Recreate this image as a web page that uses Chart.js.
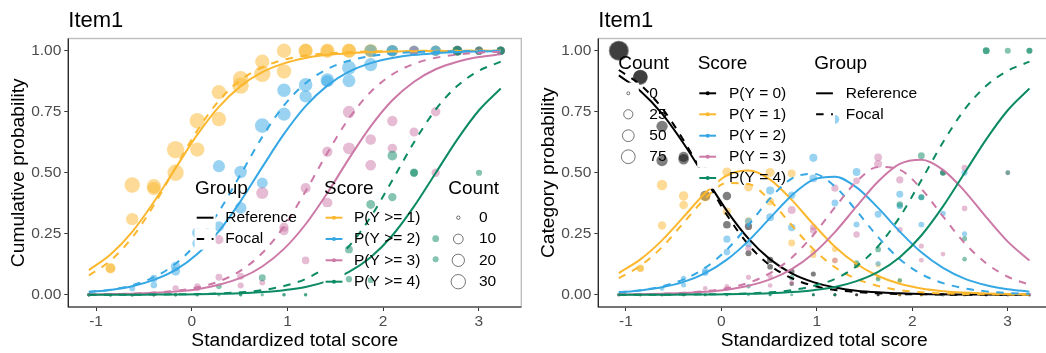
<!DOCTYPE html>
<html>
<head>
<meta charset="utf-8">
<script src="https://cdn.jsdelivr.net/npm/chart.js@4.4.1/dist/chart.umd.min.js"></script>
<style>
  html, body { margin: 0; padding: 0; background: #fff; overflow: hidden; }
  body { width: 1046px; height: 353px; position: relative; }
  .panel { position: absolute; top: 0; width: 530px; height: 353px; }
  #left { left: 0; }
  #right { left: 530px; }
</style>
</head>
<body>
<div class="panel" id="left"><canvas id="cumChart" width="530" height="353"></canvas></div>
<div class="panel" id="right"><canvas id="catChart" width="530" height="353"></canvas></div>
<script>
// standardized total score levels
const scores = [-1.075, -0.849, -0.622, -0.396, -0.169, 0.058, 0.284, 0.511, 0.737, 0.964,
                1.19, 1.417, 1.643, 1.87, 2.096, 2.323, 2.549, 2.776, 3.002, 3.229];

// group sizes at each score level
const nRef = [190, 100, 80, 67, 82, 50, 36, 41, 31, 30, 30, 30, 30, 25, 15, 12, 12, 10, 4, 6];
const nFoc = [150, 90, 65, 57, 84, 50, 42, 49, 46, 33, 25, 20, 26, 20, 17, 8, 12, 8, 6, 5];

// observed cumulative proportions P(Y >= k), k = 1..4
const refCumObs = [
  [0, 0.11, 0.45, 0.445, 0.595, 0.713, 0.83, 0.885, 0.955, 1, 1, 1, 1, 1, 1, 1, 1, 1, 1, 1],
  [0, 0, 0, 0.04, 0.116, 0.21, 0.527, 0.503, 0.458, 0.838, 0.86, 0.88, 0.93, 0.943, 1, 1, 1, 1, 1, 1],
  [0, 0, 0, 0, 0.026, 0.035, 0.226, 0.076, 0.05, 0.277, 0.141, 0.377, 0.6, 0.531, 0.6, 0.667, 0.75, 1, 1, 1],
  [0, 0, 0, 0, 0, 0, 0.035, 0, 0, 0, 0, 0.13, 0.064, 0.06, 0.4, 0.5, 0.23, 1, 0.5, 1]
];
const focCumObs = [
  [0, 0.107, 0.31, 0.435, 0.5, 0.595, 0.72, 0.857, 0.905, 0.915, 1, 1, 1, 1, 1, 1, 1, 1, 1, 1],
  [0, 0, 0.026, 0.067, 0.097, 0.254, 0.28, 0.356, 0.693, 0.74, 0.813, 0.875, 0.877, 1, 1, 1, 1, 1, 1, 1],
  [0, 0, 0, 0, 0, 0.026, 0.072, 0.038, 0.417, 0.263, 0.437, 0.587, 0.749, 0.636, 0.712, 1, 0.5, 1, 1, 1],
  [0, 0, 0, 0, 0, 0, 0, 0, 0.07, 0, 0, 0.12, 0.186, 0.37, 0.57, 0.5, 0.146, 1, 1, 1]
];

// observed category proportions P(Y = k), k = 0..4
const refCatObs = [
  [1, 0.89, 0.55, 0.555, 0.405, 0.287, 0.17, 0.115, 0.045, 0, 0, 0, 0, 0, 0, 0, 0, 0, 0, 0],
  [0, 0.11, 0.45, 0.405, 0.479, 0.503, 0.303, 0.382, 0.497, 0.162, 0.14, 0.12, 0.07, 0.057, 0, 0, 0, 0, 0, 0],
  [0, 0, 0, 0.04, 0.09, 0.175, 0.301, 0.427, 0.408, 0.561, 0.719, 0.503, 0.33, 0.412, 0.4, 0.333, 0.25, 0, 0, 0],
  [0, 0, 0, 0, 0.026, 0.035, 0.191, 0.076, 0.05, 0.277, 0.141, 0.247, 0.536, 0.471, 0.2, 0.167, 0.52, 0, 0.5, 0],
  [0, 0, 0, 0, 0, 0, 0.035, 0, 0, 0, 0, 0.13, 0.064, 0.06, 0.4, 0.5, 0.23, 1, 0.5, 1]
];
const focCatObs = [
  [1, 0.893, 0.69, 0.565, 0.5, 0.405, 0.28, 0.143, 0.095, 0.085, 0, 0, 0, 0, 0, 0, 0, 0, 0, 0],
  [0, 0.107, 0.284, 0.368, 0.403, 0.341, 0.44, 0.501, 0.212, 0.175, 0.187, 0.125, 0.123, 0, 0, 0, 0, 0, 0, 0],
  [0, 0, 0.026, 0.067, 0.097, 0.228, 0.208, 0.318, 0.276, 0.477, 0.376, 0.288, 0.128, 0.364, 0.288, 0, 0.5, 0, 0, 0],
  [0, 0, 0, 0, 0, 0.026, 0.072, 0.038, 0.347, 0.263, 0.437, 0.467, 0.563, 0.266, 0.142, 0.5, 0.354, 0, 0, 0],
  [0, 0, 0, 0, 0, 0, 0, 0, 0.07, 0, 0, 0.12, 0.186, 0.37, 0.57, 0.5, 0.146, 1, 1, 1]
];

// fitted curves (read at the score levels)
const refCumCurve = [
  [0.101, 0.165, 0.258, 0.380, 0.519, 0.656, 0.770, 0.855, 0.912, 0.948, 0.970, 0.983, 0.990, 0.994, 0.997, 0.998, 0.999, 0.999, 1.000, 1.000],
  [0.012, 0.020, 0.035, 0.061, 0.102, 0.167, 0.261, 0.384, 0.523, 0.659, 0.773, 0.857, 0.914, 0.949, 0.970, 0.983, 0.990, 0.995, 0.997, 0.998],
  [0.001, 0.003, 0.004, 0.008, 0.013, 0.023, 0.041, 0.069, 0.116, 0.188, 0.289, 0.417, 0.558, 0.690, 0.797, 0.873, 0.924, 0.955, 0.974, 0.985],
  [0.000, 0.000, 0.000, 0.001, 0.001, 0.002, 0.004, 0.006, 0.011, 0.019, 0.032, 0.056, 0.094, 0.154, 0.243, 0.362, 0.499, 0.637, 0.756, 0.845]
];
const focCumCurve = [
  [0.079, 0.140, 0.235, 0.367, 0.522, 0.673, 0.795, 0.880, 0.932, 0.963, 0.980, 0.989, 0.994, 0.997, 0.998, 0.999, 1.000, 1.000, 1.000, 1.000],
  [0.011, 0.021, 0.039, 0.072, 0.127, 0.215, 0.341, 0.493, 0.647, 0.776, 0.867, 0.925, 0.959, 0.978, 0.988, 0.994, 0.997, 0.998, 0.999, 1.000],
  [0.001, 0.002, 0.005, 0.009, 0.016, 0.030, 0.055, 0.099, 0.171, 0.280, 0.424, 0.581, 0.723, 0.831, 0.903, 0.946, 0.971, 0.984, 0.992, 0.996],
  [0.000, 0.000, 0.000, 0.001, 0.002, 0.003, 0.006, 0.010, 0.019, 0.036, 0.065, 0.117, 0.199, 0.319, 0.469, 0.625, 0.759, 0.856, 0.918, 0.955]
];
const refCatCurve = [
  [0.899, 0.835, 0.742, 0.620, 0.481, 0.344, 0.230, 0.145, 0.088, 0.052, 0.030, 0.017, 0.010, 0.006, 0.003, 0.002, 0.001, 0.001, 0.000, 0.000],
  [0.089, 0.145, 0.223, 0.319, 0.417, 0.489, 0.509, 0.472, 0.389, 0.289, 0.197, 0.126, 0.077, 0.045, 0.026, 0.015, 0.009, 0.005, 0.003, 0.002],
  [0.010, 0.018, 0.031, 0.053, 0.089, 0.144, 0.221, 0.315, 0.407, 0.472, 0.484, 0.440, 0.356, 0.259, 0.174, 0.110, 0.066, 0.039, 0.023, 0.013],
  [0.001, 0.002, 0.004, 0.007, 0.012, 0.021, 0.037, 0.063, 0.105, 0.169, 0.257, 0.362, 0.464, 0.536, 0.553, 0.512, 0.425, 0.318, 0.218, 0.140],
  [0.000, 0.000, 0.000, 0.001, 0.001, 0.002, 0.004, 0.006, 0.011, 0.019, 0.032, 0.056, 0.094, 0.154, 0.243, 0.362, 0.499, 0.637, 0.756, 0.845]
];
const focCatCurve = [
  [0.921, 0.860, 0.765, 0.633, 0.478, 0.327, 0.205, 0.120, 0.068, 0.037, 0.020, 0.011, 0.006, 0.003, 0.002, 0.001, 0.000, 0.000, 0.000, 0.000],
  [0.068, 0.119, 0.195, 0.295, 0.395, 0.458, 0.454, 0.386, 0.285, 0.187, 0.113, 0.065, 0.036, 0.019, 0.010, 0.006, 0.003, 0.002, 0.001, 0.000],
  [0.010, 0.019, 0.035, 0.063, 0.111, 0.185, 0.286, 0.395, 0.476, 0.496, 0.444, 0.344, 0.236, 0.146, 0.085, 0.048, 0.026, 0.014, 0.007, 0.004],
  [0.001, 0.002, 0.004, 0.008, 0.015, 0.027, 0.049, 0.089, 0.152, 0.245, 0.358, 0.464, 0.524, 0.512, 0.434, 0.321, 0.212, 0.129, 0.074, 0.041],
  [0.000, 0.000, 0.000, 0.001, 0.002, 0.003, 0.006, 0.010, 0.019, 0.036, 0.065, 0.117, 0.199, 0.319, 0.469, 0.625, 0.759, 0.856, 0.918, 0.955]
];

const cumLabels = ['P(Y >= 1)', 'P(Y >= 2)', 'P(Y >= 3)', 'P(Y >= 4)'];
const catLabels = ['P(Y = 0)', 'P(Y = 1)', 'P(Y = 2)', 'P(Y = 3)', 'P(Y = 4)'];
const groupLabels = ['Reference', 'Focal'];
const cumCountBreaks = [0, 10, 20, 30];
const catCountBreaks = [0, 25, 50, 75];
const xTicks = [-1, 0, 1, 2, 3];
const yTicks = [0, 0.25, 0.5, 0.75, 1];

const FONT = '"Liberation Sans", Arial, Helvetica, sans-serif';
const cumColors = ['#FBB72E', '#35A7E5', '#CC79A7', '#0B8A63'];
const catColors = ['#000000'].concat(cumColors);
const DASH = [7.5, 7.5];
const KEY_W = 21, KEY_H = 21.3;

Chart.defaults.font.family = FONT;

const leftRadius = n => 1.7 + Math.sqrt(n);
const rightRadius = n => 1.5 + 0.62 * Math.sqrt(n);

function fade(hex, a) {
  const v = parseInt(hex.slice(1), 16);
  return `rgba(${(v >> 16) & 255}, ${(v >> 8) & 255}, ${v & 255}, ${a})`;
}

function dotSet(props, sizes, color, rFn) {
  return {
    data: scores.map((x, i) => ({ x: x, y: props[i], n: sizes[i] * props[i] })),
    showLine: false,
    backgroundColor: fade(color, 0.5),
    pointBorderWidth: 0,
    borderWidth: 0,
    pointRadius: ctx => rFn(ctx.raw ? ctx.raw.n : 0),
    pointHoverRadius: ctx => rFn(ctx.raw ? ctx.raw.n : 0)
  };
}

function lineSet(vals, color, dash) {
  return {
    data: scores.map((x, i) => ({ x: x, y: vals[i] })),
    showLine: true,
    borderColor: color,
    borderWidth: 2,
    borderDash: dash,
    pointRadius: 0,
    pointHoverRadius: 0,
    cubicInterpolationMode: 'monotone',
    fill: false
  };
}

function buildSets(refObs, focObs, refCurve, focCurve, colors, rFn) {
  const sets = [];
  colors.forEach((c, k) => {
    sets.push(dotSet(refObs[k], nRef, c, rFn));
    sets.push(dotSet(focObs[k], nFoc, c, rFn));
  });
  colors.forEach((c, k) => {
    sets.push(lineSet(refCurve[k], c, []));
    sets.push(lineSet(focCurve[k], c, DASH));
  });
  // first pushed is painted first (bottom)
  sets.forEach((d, i) => { d.order = sets.length - i; });
  return sets;
}

function drawLegend(ctx, lg) {
  ctx.textAlign = 'left';
  ctx.textBaseline = 'middle';
  ctx.fillStyle = '#000';
  ctx.font = `19px ${FONT}`;
  ctx.fillText(lg.title, lg.titleX, lg.titleY);
  lg.rows.forEach((row, i) => {
    const cy = lg.rowY[i];
    const x0 = lg.keyX;
    ctx.fillStyle = '#fff';
    ctx.fillRect(x0, cy - KEY_H / 2, KEY_W, KEY_H);
    if (row.kind === 'solid' || row.kind === 'dash' || row.kind === 'score') {
      ctx.save();
      ctx.strokeStyle = row.color || '#000';
      ctx.lineWidth = 2;
      ctx.setLineDash(row.kind === 'dash' ? DASH : []);
      ctx.beginPath();
      ctx.moveTo(x0 + 0.1 * KEY_W, cy);
      ctx.lineTo(x0 + 0.9 * KEY_W, cy);
      ctx.stroke();
      ctx.restore();
      if (row.kind === 'score') {
        ctx.fillStyle = row.color;
        ctx.beginPath();
        ctx.arc(x0 + KEY_W / 2, cy, 2, 0, Math.PI * 2);
        ctx.fill();
      }
    } else if (row.kind === 'size') {
      ctx.strokeStyle = 'rgba(0,0,0,0.6)';
      ctx.lineWidth = 0.9;
      ctx.beginPath();
      ctx.arc(x0 + KEY_W / 2, cy, row.r, 0, Math.PI * 2);
      ctx.stroke();
    }
    ctx.fillStyle = '#000';
    ctx.font = `15.5px ${FONT}`;
    ctx.fillText(row.label, lg.textX, cy);
  });
}

const panelDecor = {
  id: 'panelDecor',
  afterDatasetsDraw(chart, args, o) {
    const ctx = chart.ctx, a = chart.chartArea;
    ctx.save();
    ctx.strokeStyle = '#BEBEBE';
    ctx.lineWidth = 1.4;
    ctx.strokeRect(a.left, a.top, a.right - a.left, a.bottom - a.top);
    ctx.strokeStyle = '#1A1A1A';
    ctx.lineWidth = 1.2;
    ctx.beginPath();
    ctx.moveTo(a.left, a.top);
    ctx.lineTo(a.left, a.bottom);
    ctx.lineTo(a.right, a.bottom);
    ctx.stroke();

    ctx.fillStyle = '#000';
    ctx.textBaseline = 'alphabetic';
    ctx.textAlign = 'left';
    ctx.font = `22px ${FONT}`;
    ctx.fillText(o.title, a.left, 26.7);
    ctx.textAlign = 'center';
    ctx.font = `19.2px ${FONT}`;
    ctx.fillText(o.xTitle, (a.left + a.right) / 2, 346);
    ctx.save();
    ctx.translate(23.5, (a.top + a.bottom) / 2);
    ctx.rotate(-Math.PI / 2);
    ctx.fillText(o.yTitle, 0, 0);
    ctx.restore();

    o.legends.forEach(lg => drawLegend(ctx, lg));
    ctx.restore();
  }
};

function makeChart(id, datasets, decor) {
  return new Chart(document.getElementById(id), {
    type: 'scatter',
    data: { datasets: datasets },
    options: {
      responsive: false,
      animation: false,
      devicePixelRatio: 1,
      events: [],
      layout: { padding: { left: 0, right: 3.6, top: 38.5, bottom: 0 } },
      plugins: {
        legend: { display: false },
        tooltip: { enabled: false },
        panelDecor: decor
      },
      scales: {
        x: {
          type: 'linear',
          min: -1.29,
          max: 3.444,
          afterFit: s => { s.height = 46; },
          afterBuildTicks: s => { s.ticks = xTicks.map(v => ({ value: v })); },
          ticks: {
            color: '#4D4D4D',
            font: { size: 15.5 },
            padding: 1,
            maxRotation: 0,
            callback: v => String(v)
          },
          grid: { drawOnChartArea: false, drawTicks: true, tickLength: 4, color: '#333333' },
          border: { display: false }
        },
        y: {
          type: 'linear',
          min: -0.05,
          max: 1.05,
          afterFit: s => { s.width = 68.3; },
          afterBuildTicks: s => { s.ticks = yTicks.map(v => ({ value: v })); },
          ticks: {
            color: '#4D4D4D',
            font: { size: 15.5 },
            padding: 3,
            callback: v => Number(v).toFixed(2)
          },
          grid: { drawOnChartArea: false, drawTicks: true, tickLength: 4, color: '#333333' },
          border: { display: false }
        }
      }
    },
    plugins: [panelDecor]
  });
}

const leftRows4 = [217.7, 239.0, 260.3, 281.7];
makeChart('cumChart',
  buildSets(refCumObs, focCumObs, refCumCurve, focCumCurve, cumColors, leftRadius),
  {
    title: 'Item1',
    xTitle: 'Standardized total score',
    yTitle: 'Cumulative probability',
    legends: [
      { title: 'Group', titleX: 195, titleY: 188.3, keyX: 194.6, textX: 225.3, rowY: leftRows4,
        rows: [{ label: groupLabels[0], kind: 'solid' }, { label: groupLabels[1], kind: 'dash' }] },
      { title: 'Score', titleX: 324, titleY: 188.3, keyX: 323.5, textX: 354, rowY: leftRows4,
        rows: cumLabels.map((l, k) => ({ label: l, kind: 'score', color: cumColors[k] })) },
      { title: 'Count', titleX: 448.3, titleY: 188.3, keyX: 447.8, textX: 479, rowY: leftRows4,
        rows: cumCountBreaks.map(b => ({ label: String(b), kind: 'size', r: leftRadius(b) })) }
    ]
  });

const rightRows = [93.3, 114.3, 135.7, 156.7, 178.0];
makeChart('catChart',
  buildSets(refCatObs, focCatObs, refCatCurve, focCatCurve, catColors, rightRadius),
  {
    title: 'Item1',
    xTitle: 'Standardized total score',
    yTitle: 'Category probability',
    legends: [
      { title: 'Count', titleX: 88.3, titleY: 64, keyX: 87.8, textX: 119.3, rowY: rightRows,
        rows: catCountBreaks.map(b => ({ label: String(b), kind: 'size', r: rightRadius(b) })) },
      { title: 'Score', titleX: 167.7, titleY: 64, keyX: 167.2, textX: 199, rowY: rightRows,
        rows: catLabels.map((l, k) => ({ label: l, kind: 'score', color: catColors[k] })) },
      { title: 'Group', titleX: 284.3, titleY: 64, keyX: 284.0, textX: 315.7, rowY: rightRows,
        rows: [{ label: groupLabels[0], kind: 'solid' }, { label: groupLabels[1], kind: 'dash' }] }
    ]
  });
</script>
</body>
</html>
